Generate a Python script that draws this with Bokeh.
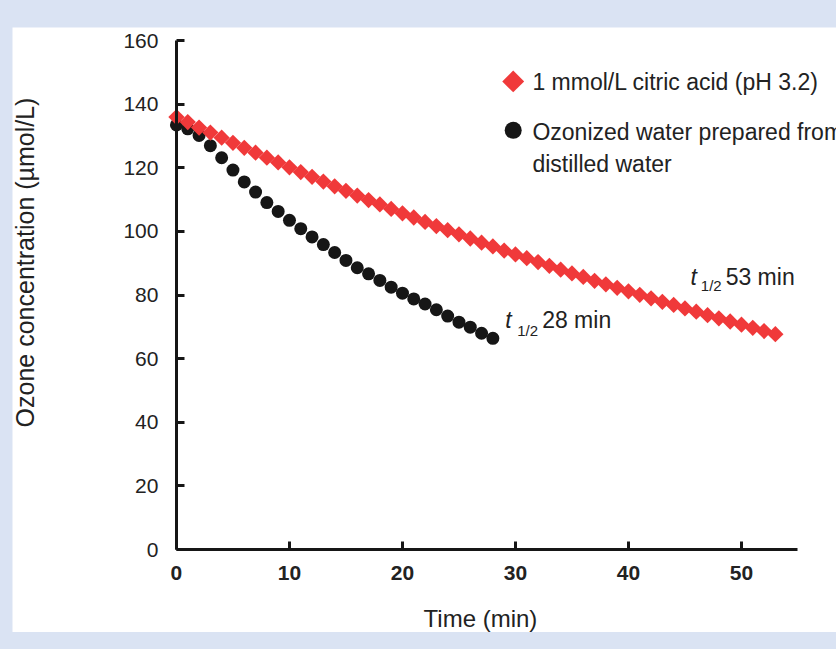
import math
from bokeh.plotting import figure
from bokeh.models import FixedTicker, Spacer, Range1d, LinearAxis
from bokeh.layouts import column, row
from bokeh.embed import file_html
from bokeh.resources import INLINE
from bokeh.core.properties import value

# ---- data ----
time_citric = list(range(0, 54))
ozone_citric = [136.0, 134.4, 132.7, 131.1, 129.5, 127.9, 126.3, 124.8, 123.2, 121.7,
                120.2, 118.7, 117.2, 115.7, 114.2, 112.8, 111.3, 109.9, 108.5, 107.1,
                105.7, 104.4, 103.0, 101.7, 100.4, 99.1, 97.8, 96.5, 95.3, 94.0,
                92.8, 91.6, 90.4, 89.2, 88.0, 86.8, 85.7, 84.5, 83.4, 82.3,
                81.2, 80.1, 79.0, 77.9, 76.9, 75.8, 74.8, 73.7, 72.7, 71.7,
                70.7, 69.7, 68.7, 67.7]
time_water = list(range(0, 29))
ozone_water = [133.5, 132.3, 130.2, 127.0, 123.2, 119.3, 115.6, 112.4, 109.1, 106.3,
               103.5, 100.9, 98.3, 95.9, 93.4, 90.9, 88.6, 86.7, 84.6, 82.5,
               80.6, 78.8, 77.2, 75.4, 73.4, 71.5, 69.9, 68.0, 66.4]
x_ticks = [0, 10, 20, 30, 40, 50]
y_ticks = [0, 20, 40, 60, 80, 100, 120, 140, 160]
legend_citric = "1 mmol/L citric acid (pH 3.2)"
legend_water = ["Ozonized water prepared from", "distilled water"]
half_life_citric = "53 min"
half_life_water = "28 min"
x_title = "Time (min)"
y_title = "Ozone concentration (\u00b5mol/L)"

BG = "#dae3f3"
RED = "#f0393a"
BLACK = "#161616"
TEXT = "#222222"
FONT = "Liberation Sans"

# the frame covers the whole white panel; axes sit at x=0 / y=0
p = figure(width=824, height=605, x_range=Range1d(-14.51, 58.41), y_range=Range1d(-26.1, 164.15),
           output_backend="svg", toolbar_location=None,
           x_axis_location=None, y_axis_location=None,
           min_border_left=0, min_border_right=0, min_border_top=0, min_border_bottom=0,
           background_fill_color="white", border_fill_color="white", outline_line_color=None)
p.xgrid.visible = False
p.ygrid.visible = False

xaxis = LinearAxis(fixed_location=0, ticker=FixedTicker(ticks=x_ticks), bounds=(0, 55))
yaxis = LinearAxis(fixed_location=0, ticker=FixedTicker(ticks=y_ticks), bounds=(0, 160))
for ax in (xaxis, yaxis):
    ax.axis_line_width = 3
    ax.axis_line_color = BLACK
    ax.major_tick_line_width = 3
    ax.major_tick_line_color = BLACK
    ax.major_tick_in = 8
    ax.major_tick_out = 0
    ax.minor_tick_line_color = None
    ax.major_label_text_color = TEXT
xaxis.major_label_text_font = FONT
xaxis.major_label_text_font_style = "bold"
xaxis.major_label_text_font_size = "21px"
xaxis.major_label_standoff = 16
yaxis.major_label_text_font = FONT
yaxis.major_label_text_font_size = "21px"
yaxis.major_label_standoff = 18
p.add_layout(xaxis, "below")
p.add_layout(yaxis, "left")

# data
p.scatter(time_water, ozone_water, marker="circle", size=13, fill_color=BLACK, line_color=None)
p.scatter(time_citric, ozone_citric, marker="square", angle=math.pi / 4, size=11.5,
          fill_color=RED, line_color=None)

# legend
p.scatter([29.8], [147.2], marker="square", angle=math.pi / 4, size=15.5, fill_color=RED, line_color=None)
p.scatter([29.8], [131.8], marker="circle", size=17, fill_color=BLACK, line_color=None)
txt = dict(text_font=value(FONT), text_font_size="23px", text_color=TEXT,
           text_baseline="middle", text_align="left")
p.text([31.5], [147.0], text=[legend_citric], **txt)
p.text([31.5], [131.2], text=[legend_water[0]], **txt)
p.text([31.5], [121.2], text=[legend_water[1]], **txt)

# half-life annotations
ital = dict(txt, text_font_style="italic")
sub = dict(txt, text_font_size="15px")
p.text([29.1], [72.1], text=["t"], **ital)
p.text([30.15], [69.0], text=["1/2"], **sub)
p.text([32.36], [72.1], text=[half_life_water], **txt)
p.text([45.5], [85.6], text=["t"], **ital)
p.text([46.4], [82.9], text=["1/2"], **sub)
p.text([48.6], [85.6], text=[half_life_citric], **txt)

# axis titles
p.text([26.9], [-21.7], text=[x_title], text_font=value(FONT), text_font_size="24px",
       text_color=TEXT, text_align="center", text_baseline="middle")
p.text([-13.4], [90.25], text=[y_title], angle=math.pi / 2, text_font=value(FONT),
       text_font_size="25px", text_color=TEXT, text_align="center", text_baseline="middle")

layout = column(Spacer(width=836, height=27), row(Spacer(width=12, height=605), p))

html = file_html(layout, INLINE)
html = html.replace("</head>", "<style>html, body { background: #dae3f3; }</style></head>", 1)
open("out.html", "w").write(html)
